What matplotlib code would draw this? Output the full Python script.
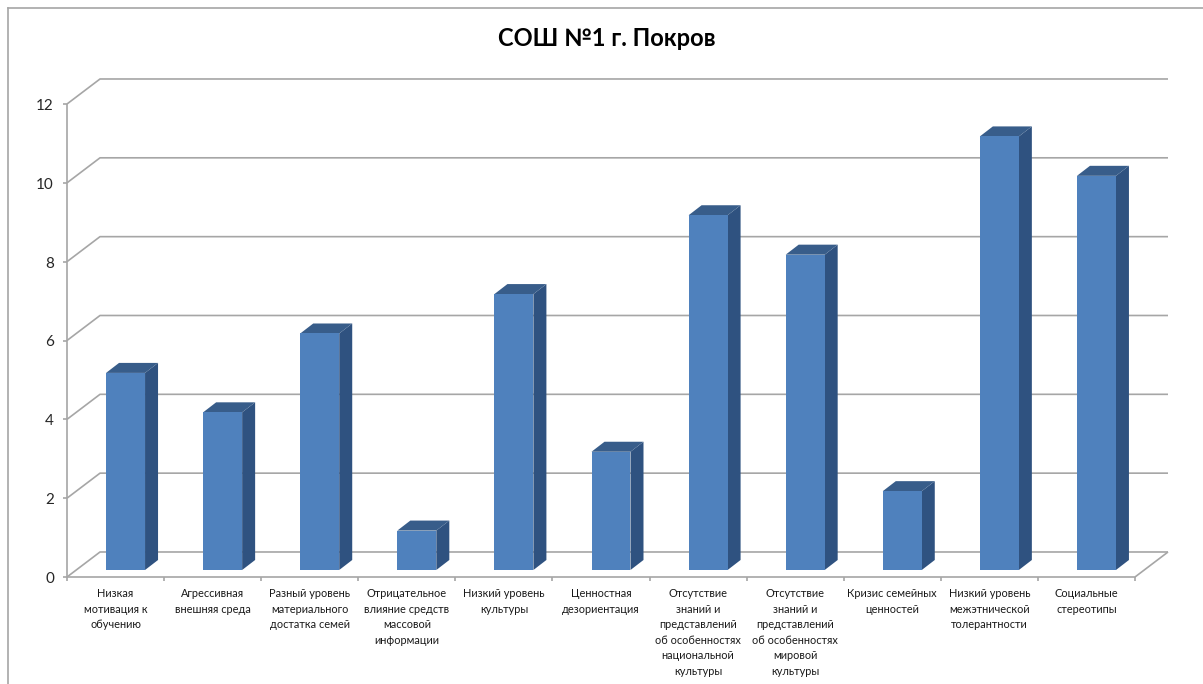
import matplotlib
matplotlib.use("Agg")
import matplotlib.pyplot as plt
from matplotlib.patches import Polygon, Rectangle
from matplotlib.lines import Line2D

FONT = ["Lato", "Open Sans", "DejaVu Sans"]
plt.rcParams["font.family"] = FONT

title = "СОШ №1 г. Покров"
categories = [
    "Низкая\nмотивация к\nобучению",
    "Агрессивная\nвнешняя среда",
    "Разный уровень\nматериального\nдостатка семей",
    "Отрицательное\nвлияние средств\nмассовой\nинформации",
    "Низкий уровень\nкультуры",
    "Ценностная\nдезориентация",
    "Отсутствие\nзнаний и\nпредставлений\nоб особенностях\nнациональной\nкультуры",
    "Отсутствие\nзнаний и\nпредставлений\nоб особенностях\nмировой\nкультуры",
    "Кризис семейных\nценностей",
    "Низкий уровень\nмежэтнической\nтолерантности",
    "Социальные\nстереотипы",
]
values = [5, 4, 6, 1, 7, 3, 9, 8, 2, 11, 10]
yticks = [0, 2, 4, 6, 8, 10, 12]

W, H = 1203, 684
fig = plt.figure(figsize=(W / 100, H / 100), dpi=100, facecolor="white")
L, R, B, T = 67, 1135, 577, 104
ax = fig.add_axes([L / W, 1 - B / H, (R - L) / W, (B - T) / H])
n = len(values)
ax.set_xlim(0, n)
ax.set_ylim(0, 12)
ax.patch.set_visible(False)
for s in ax.spines.values():
    s.set_visible(False)
ax.set_xticks([])
ax.set_yticks([])

GRID = "#a6a6a6"
FRONT, SIDE, TOP = "#4f81bd", "#2f5280", "#385d8a"
wall_dx, wall_dy = 33 / 97.1, 25 / 39.4
bar_w = 39 / 97.1
bar_off_x = 0.5 - bar_w / 2 + 10 / 97.1
bar_off_y = 7 / 39.4
depth_x, depth_y = 13 / 97.1, 10 / 39.4

kw = dict(clip_on=False, solid_capstyle="butt")
for v in yticks:
    ax.plot([0, wall_dx, n + wall_dx], [v, v + wall_dy, v + wall_dy], color=GRID, lw=1.2, zorder=1, **kw)
    ax.plot([-0.045, 0], [v, v], color=GRID, lw=1.2, zorder=1, **kw)
    ax.text(-0.135, v - 0.05, str(v), ha="right", va="center", fontsize=11, color="#262626")
ax.plot([0, 0], [0, 12], color=GRID, lw=1.2, zorder=1, **kw)
ax.plot([0, n, n + wall_dx], [0, 0, wall_dy], color=GRID, lw=1.2, zorder=1, **kw)
for i in range(n + 1):
    ax.plot([i, i], [0, -0.1], color=GRID, lw=1.2, zorder=1, **kw)

for i, (v, c) in enumerate(zip(values, categories)):
    x0 = i + bar_off_x
    x1 = x0 + bar_w
    y0 = bar_off_y
    y1 = v + bar_off_y
    ax.add_patch(Polygon([(x1, y0), (x1 + depth_x, y0 + depth_y), (x1 + depth_x, y1 + depth_y), (x1, y1)],
                         facecolor=SIDE, edgecolor="none", zorder=3, clip_on=False))
    ax.add_patch(Polygon([(x0, y1), (x1, y1), (x1 + depth_x, y1 + depth_y), (x0 + depth_x, y1 + depth_y)],
                         facecolor=TOP, edgecolor="none", zorder=3, clip_on=False))
    ax.add_patch(Rectangle((x0, y0), bar_w, v, facecolor=FRONT, edgecolor="none", zorder=4, clip_on=False))
    ax.text(i + 0.5, -0.28, c, ha="center", va="top", fontsize=7.9, color="#1a1a1a",
            linespacing=1.5, clip_on=False)

fig.text(607 / W, 1 - 38 / H, title, ha="center", va="center", fontsize=17, fontweight="bold", color="black")

for xs, ys in [([8 / W, 1], [1 - 8 / H, 1 - 8 / H]), ([8 / W, 8 / W], [0, 1 - 8 / H])]:
    fig.add_artist(Line2D(xs, ys, color="#a6a6a6", lw=1.2))

fig.savefig("out.png", dpi=100)
